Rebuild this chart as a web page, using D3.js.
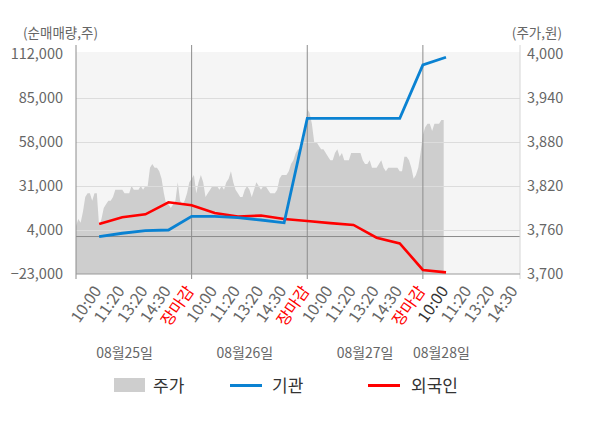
<!DOCTYPE html>
<html>
<head>
<meta charset="utf-8">
<script src="https://cdn.jsdelivr.net/npm/d3@7/dist/d3.min.js"></script>
<style>
  body { margin:0; background:#fff; }
  svg { font-family: "Noto Sans CJK KR", "Noto Sans", sans-serif; }
</style>
</head>
<body>
<svg id="chart" width="600" height="428"></svg>
<script>
// 주가 (one value per time slot, 50 slots per day)
var prices = [
  3765,3775,3770,3785,3805,3810,3810,3800,3810,3810,
  3765,3775,3790,3795,3800,3800,3805,3815,3815,3815,
  3815,3810,3810,3810,3820,3815,3815,3815,3820,3815,
  3820,3820,3845,3850,3845,3845,3840,3830,3810,3795,
  3795,3790,3795,3800,3825,3800,3795,3800,3810,3825,
  3830,3835,3810,3825,3835,3825,3805,3810,3815,3820,
  3820,3820,3815,3820,3815,3825,3830,3840,3825,3815,
  3810,3805,3805,3815,3820,3815,3805,3815,3825,3820,
  3815,3820,3820,3815,3810,3810,3810,3815,3830,3835,
  3835,3835,3840,3850,3855,3865,3870,3870,3875,3890,
  3925,3920,3905,3880,3880,3875,3870,3870,3865,3860,
  3855,3855,3865,3870,3860,3865,3855,3855,3855,3865,
  3865,3865,3865,3865,3855,3850,3850,3855,3845,3845,
  3845,3850,3855,3845,3840,3845,3845,3845,3845,3845,
  3840,3840,3860,3860,3855,3845,3830,3835,3845,3865,
  3890,3900,3905,3905,3895,3905,3905,3905,3910,3910
];

// 기관 / 외국인 누적 순매매량
var flowSlots = [10,20,30,40,50,60,70,80,90,100,110,120,130,140,150,160];
var instValues = [0,2000,3600,4000,12400,12400,11550,10140,8400,72500,72500,72500,72500,72500,105250,110000];
var foreignValues = [7700,11800,13600,21000,19200,14400,12200,12900,10750,9500,8200,7100,-700,-4200,-20500,-22000];

var leftTicks = [-23000,4000,31000,58000,85000,112000];
var rightTicks = [3700,3760,3820,3880,3940,4000];

var dayNames = ["08월25일","08월26일","08월27일","08월28일"];
var dayNameSlots = [21,73,125,158];
var timeNames = ["10:00","11:20","13:20","14:30","장마감"];
var timeSlots = [10,20,30,40,50];
var daySlots = 50;

var screen = { width:600, height:428 };
var margin = { left:76, right:80, top:54, bottom:154 };

var xScale = d3.scaleLinear()
    .domain([0,192])
    .range([margin.left, screen.width-margin.right]);
var yLeft = d3.scaleLinear()
    .domain([-23000,112000])
    .range([screen.height-margin.bottom, margin.top]);
var yRight = d3.scaleLinear()
    .domain([3700,4000])
    .range([screen.height-margin.bottom, margin.top]);

var svg = d3.select("#chart");
var x0 = xScale.range()[0], x1 = xScale.range()[1];
var yb = yLeft.range()[0], yt = yLeft.range()[1];

// plot background
svg.append("rect")
    .attr("x", x0).attr("y", yt-2)
    .attr("width", x1-x0).attr("height", yb-yt+2)
    .attr("fill", "#f5f5f5");

// price area
var area = d3.area()
    .x(function(d,i){ return xScale(i); })
    .y0(yb)
    .y1(function(d){ return yRight(d); });
svg.append("path")
    .datum(prices)
    .attr("d", area)
    .attr("fill", "#cecece");

// horizontal grid
svg.append("g")
    .attr("transform", "translate(" + x0 + ",0)")
    .call(d3.axisLeft(yLeft).tickValues(leftTicks.slice(1,5)).tickSize(-(x1-x0)).tickFormat(""))
    .call(function(g){
        g.select(".domain").remove();
        g.selectAll("line").attr("stroke", "#dcdcdc");
    });

// zero line
svg.append("line")
    .attr("x1", x0).attr("x2", x1)
    .attr("y1", yLeft(0)).attr("y2", yLeft(0))
    .attr("stroke", "#8c8c8c");

// day separators + left axis line
var dayStarts = [0,50,100,150];
svg.selectAll(".sep")
    .data(dayStarts)
    .enter()
    .append("line")
    .attr("class", "sep")
    .attr("x1", function(d){ return xScale(d); })
    .attr("x2", function(d){ return xScale(d); })
    .attr("y1", yt-9)
    .attr("y2", yb+5)
    .attr("stroke", "#8c8c8c");

// right axis line
svg.append("line")
    .attr("x1", x1).attr("x2", x1)
    .attr("y1", yt-9).attr("y2", yb+5)
    .attr("stroke", "#d6d6d6");

// bottom axis line
svg.append("line")
    .attr("x1", x0).attr("x2", x1)
    .attr("y1", yb).attr("y2", yb)
    .attr("stroke", "#9a9a9a");

// flow lines
var line = d3.line()
    .x(function(d){ return xScale(d[0]); })
    .y(function(d){ return yLeft(d[1]); });

svg.append("path")
    .datum(d3.zip(flowSlots, foreignValues))
    .attr("d", line)
    .attr("fill", "none")
    .attr("stroke", "#ff0000")
    .attr("stroke-width", 2.6);

svg.append("path")
    .datum(d3.zip(flowSlots, instValues))
    .attr("d", line)
    .attr("fill", "none")
    .attr("stroke", "#0a82d2")
    .attr("stroke-width", 2.8);

// y axes labels
var fmt = d3.format(",");
svg.append("g")
    .attr("transform", "translate(" + (x0-13) + ",0)")
    .call(d3.axisLeft(yLeft).tickValues(leftTicks).tickSize(0).tickPadding(0).tickFormat(fmt))
    .call(function(g){
        g.select(".domain").remove();
        g.selectAll("text").attr("fill", "#666").style("font-size", "14.5px")
            .style("font-family", "'Noto Sans CJK KR', 'Noto Sans', sans-serif");
    });

svg.append("g")
    .attr("transform", "translate(" + (x1+7) + ",0)")
    .call(d3.axisRight(yRight).tickValues(rightTicks).tickSize(0).tickPadding(0).tickFormat(fmt))
    .call(function(g){
        g.select(".domain").remove();
        g.selectAll("text").attr("fill", "#666").style("font-size", "14.5px")
            .style("font-family", "'Noto Sans CJK KR', 'Noto Sans', sans-serif");
    });

svg.append("text")
    .attr("x", 23).attr("y", 38)
    .attr("fill", "#666").style("font-size", "13.5px")
    .text("(순매매량,주)");
svg.append("text")
    .attr("x", 562).attr("y", 38)
    .attr("text-anchor", "end")
    .attr("fill", "#666").style("font-size", "13.5px")
    .text("(주가,원)");

// x labels
var xLabels = [];
dayNames.forEach(function(day, d){
    timeNames.forEach(function(t, i){
        if (d == 3 && i == 4) return;
        var color = "#666";
        if (i == 4) color = "#ff0000";
        if (d == 3 && i == 0) color = "#333";
        xLabels.push({ label:t, slot:d*daySlots + timeSlots[i], color:color });
    });
});

svg.selectAll(".xl")
    .data(xLabels)
    .enter()
    .append("text")
    .attr("class", "xl")
    .attr("text-anchor", "end")
    .attr("transform", function(d){
        return "translate(" + (xScale(d.slot)+3) + "," + (yb+17) + ") rotate(-55)";
    })
    .attr("fill", function(d){ return d.color; })
    .style("font-size", "16px")
    .text(function(d){ return d.label; });

svg.selectAll(".dl")
    .data(dayNames)
    .enter()
    .append("text")
    .attr("class", "dl")
    .attr("x", function(d,i){ return xScale(dayNameSlots[i]); })
    .attr("y", 358)
    .attr("text-anchor", "middle")
    .attr("fill", "#666")
    .style("font-size", "14px")
    .text(function(d){ return d; });

// legend
var legend = svg.append("g");
legend.append("rect")
    .attr("x", 114).attr("y", 378)
    .attr("width", 31).attr("height", 14)
    .attr("fill", "#cecece");
legend.append("line")
    .attr("x1", 230).attr("x2", 262).attr("y1", 385.5).attr("y2", 385.5)
    .attr("stroke", "#0a82d2").attr("stroke-width", 3);
legend.append("line")
    .attr("x1", 368).attr("x2", 400).attr("y1", 385.5).attr("y2", 385.5)
    .attr("stroke", "#ff0000").attr("stroke-width", 3);
var legendNames = ["주가","기관","외국인"];
var legendX = [153,272,411];
legend.selectAll("text")
    .data(legendNames)
    .enter()
    .append("text")
    .attr("x", function(d,i){ return legendX[i]; })
    .attr("y", 392)
    .attr("fill", "#333")
    .style("font-size", "17px")
    .text(function(d){ return d; });
</script>
</body>
</html>
